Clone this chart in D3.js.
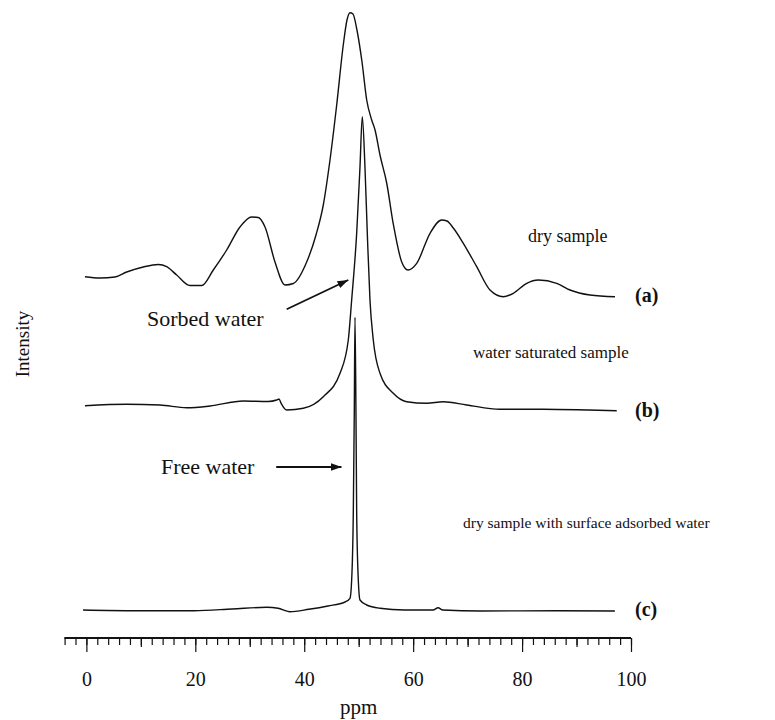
<!DOCTYPE html>
<html>
<head>
<meta charset="utf-8">
<script src="https://cdn.jsdelivr.net/npm/d3@7"></script>
<style>
  body { margin: 0; background: #fff; }
  svg { display: block; }
  svg text { font-family: "Liberation Serif", "Times New Roman", serif; }
</style>
</head>
<body>
<svg id="chart" width="775" height="720"></svg>
<script>
// spectra, [ppm, intensity above own baseline]
const drySample = [
  [-0.26, 0.3], [2.5, -1], [5.25, 0], [7.4, 5], [10.45, 10], [13.2, 12.5], [14.74, 10.3],
  [16.58, 2], [19.02, -8.5], [21.17, -8.5], [23.3, 7], [25.76, 27], [28.2, 50], [30.35, 60],
  [31.56, 59.5], [32.8, 50], [34.63, 15], [36.47, -8], [37.99, -6.5], [40.45, 15], [42.16, 42],
  [43.5, 72], [44.73, 117], [45.96, 172], [47.17, 232], [47.85, 257], [48.4, 264.3], [48.95, 263],
  [49.68, 247], [50.61, 215], [51.47, 177], [52.39, 157], [53.0, 147], [53.91, 122], [55.14, 94],
  [56.35, 53], [57.9, 15], [59.05, 7], [60.65, 13.7], [63.1, 43.7], [65.24, 57], [66.21, 56],
  [67.37, 49], [69.21, 33.7], [71.67, 10.3], [74.11, -13], [76.55, -19.7], [78.39, -16.3],
  [80.85, -6.3], [82.98, -3], [86.36, -6.3], [88.8, -13], [92.47, -18], [97.06, -19.7]
];
const saturated = [
  [-0.26, -0.7], [7.4, 0.7], [13.51, 0], [18.42, -2.7], [22.7, -1], [28.81, 4], [33.35, 3.5],
  [34.94, 5], [35.37, 6], [35.73, 2], [36.78, -5], [39.83, -3.3], [43.5, 8.3], [46.57, 31.7],
  [48.09, 65], [48.71, 105], [49.63, 171.7], [50.24, 238.3], [50.66, 288.3], [51.15, 238.3],
  [51.58, 171.7], [52.07, 105], [52.68, 65], [53.91, 31.7], [56.35, 11.7], [58.81, 3.3],
  [62.49, 1.7], [65.53, 3.3], [69.83, 0], [75.94, -4.3], [83.9, -4.3], [91.87, -5], [97.38, -5.7]
];
const surfaceWater = [
  [-0.62, 0], [9.2, -0.7], [19.76, -0.7], [26.77, 1], [33.11, 2.7], [35.2, 1.7], [37.31, -1.7],
  [40.84, 0.7], [44.35, 4], [47.49, 8], [48.4, 11.7], [48.71, 30], [49.01, 97], [49.19, 197],
  [49.32, 292.7], [49.5, 197], [49.63, 97], [49.93, 30], [50.24, 10], [51.47, 5], [53.91, 1.7],
  [58.39, 0], [63.66, 0], [64.58, 2.3], [65.42, 0], [72.46, -1], [86.5, -0.7], [97.04, -1]
];
const baselines = [363, 235, 30];
const traceNames = ["dry sample", "water saturated sample", "dry sample with surface adsorbed water"];
const traceTags = ["(a)", "(b)", "(c)"];
const majorTicks = [0, 20, 40, 60, 80, 100];
const midTicks = [10, 30, 50, 70, 90];
const minorTicks = d3.range(-4, 101, 2);

const svg = d3.select("#chart");
const x = d3.scaleLinear().domain([-4, 100]).range([64.6, 631]);
const y = d3.scaleLinear().domain([0, 630]).range([640, 10]);

const line = d3.line()
  .x(d => x(d[0]))
  .curve(d3.curveMonotoneX);

[drySample, saturated, surfaceWater].forEach((s, i) => {
  svg.append("path")
    .datum(s)
    .attr("fill", "none")
    .attr("stroke", "#111")
    .attr("stroke-width", 1.4)
    .attr("stroke-linejoin", "round")
    .attr("d", line.y(d => y(d[1] + baselines[i])));
});

// axis
const axisY = 638;
const addAxis = (vals, size, labels) => {
  const g = svg.append("g")
    .attr("transform", `translate(0,${axisY})`)
    .call(d3.axisBottom(x).tickValues(vals).tickSize(size).tickPadding(20)
      .tickFormat(labels ? d3.format("d") : ""));
  g.attr("font-family", null);
  g.selectAll("line").attr("stroke", "#111").attr("stroke-width", 1.2);
  g.select(".domain").attr("stroke", "#111").attr("stroke-width", 1.3).attr("d", `M${x(-4)},0H${x(100)}`);
  g.selectAll("text").attr("font-size", 20).attr("fill", "#111");
  return g;
};
addAxis(minorTicks, 7, false);
addAxis(midTicks, 9, false);
addAxis(majorTicks, 14, true);

svg.append("text")
  .attr("x", x(50)).attr("y", 714)
  .attr("text-anchor", "middle")
  .attr("font-size", 21)
  .attr("fill", "#111")
  .text("ppm");

svg.append("text")
  .attr("transform", "translate(29,344) rotate(-90)")
  .attr("text-anchor", "middle")
  .attr("font-size", 19)
  .attr("fill", "#111")
  .text("Intensity");

// trace labels
const nameY = [242, 358, 528];
const tagY = [302, 417, 616];
const nameX = [528, 473, 463];
const nameSize = [18, 17, 15.5];
traceNames.forEach((n, i) => {
  svg.append("text").attr("x", nameX[i]).attr("y", nameY[i])
    .attr("font-size", nameSize[i]).attr("fill", "#111").text(n);
  svg.append("text").attr("x", 635).attr("y", tagY[i])
    .attr("font-size", 20).attr("font-weight", "bold").attr("fill", "#111").text(traceTags[i]);
});

// annotations
svg.append("defs").append("marker")
  .attr("id", "head")
  .attr("viewBox", "0 0 10 10")
  .attr("refX", 10).attr("refY", 5)
  .attr("markerWidth", 6).attr("markerHeight", 6)
  .attr("markerUnits", "strokeWidth")
  .attr("orient", "auto")
  .append("path").attr("d", "M0,1.5L10,5L0,8.5Z").attr("fill", "#111");

const arrows = [
  { from: [36.78, 330.7], to: [48.09, 360] },
  { from: [34.85, 173], to: [46.84, 173] }
];
arrows.forEach(a => {
  svg.append("line")
    .attr("x1", x(a.from[0])).attr("y1", y(a.from[1]))
    .attr("x2", x(a.to[0])).attr("y2", y(a.to[1]))
    .attr("stroke", "#111").attr("stroke-width", 1.8)
    .attr("marker-end", "url(#head)");
});

svg.append("text").attr("x", 147).attr("y", 326)
  .attr("font-size", 22).attr("fill", "#111").text("Sorbed water");
svg.append("text").attr("x", 161).attr("y", 474)
  .attr("font-size", 22).attr("fill", "#111").text("Free water");
</script>
</body>
</html>
